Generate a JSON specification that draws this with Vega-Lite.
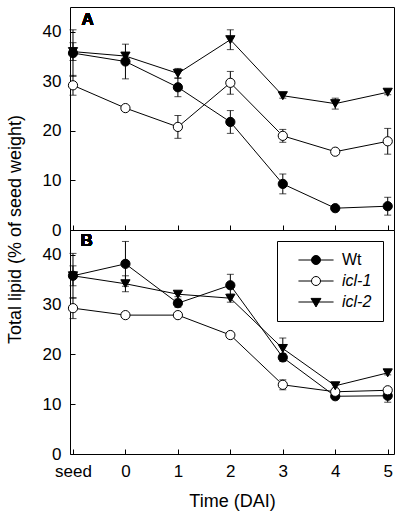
{
  "$schema": "https://vega.github.io/schema/vega-lite/v6.json",
  "padding": {"left": 5, "top": 6, "right": 5, "bottom": 5},
  "bounds": "flush",
  "spacing": 0,
  "config": {
    "font": "Liberation Sans",
    "view": {"stroke": "black", "strokeWidth": 1},
    "axis": {
      "labelFont": "Liberation Sans", "labelFontSize": 17, "labelColor": "black",
      "titleFont": "Liberation Sans", "titleFontSize": 18, "titleFontWeight": "normal", "titleColor": "black",
      "grid": false, "domain": false, "tickColor": "black", "tickSize": -5, "tickWidth": 1
    }
  },
  "resolve": {
    "scale": {"shape": "independent", "fill": "independent"},
    "legend": {"shape": "independent", "fill": "independent"}
  },
  "datasets": {
    "d": [
      {"panel": "A", "series": "Wt", "t": -1, "v": 35.7, "err": 4.7},
      {"panel": "A", "series": "Wt", "t": 0, "v": 34.0, "err": 3.5},
      {"panel": "A", "series": "Wt", "t": 1, "v": 28.8, "err": 1.9},
      {"panel": "A", "series": "Wt", "t": 2, "v": 21.8, "err": 2.3},
      {"panel": "A", "series": "Wt", "t": 3, "v": 9.3, "err": 2.0},
      {"panel": "A", "series": "Wt", "t": 4, "v": 4.4, "err": 0},
      {"panel": "A", "series": "Wt", "t": 5, "v": 4.8, "err": 1.8},
      {"panel": "A", "series": "icl-1", "t": -1, "v": 29.2, "err": 2.0},
      {"panel": "A", "series": "icl-1", "t": 0, "v": 24.6, "err": 0},
      {"panel": "A", "series": "icl-1", "t": 1, "v": 20.8, "err": 2.3},
      {"panel": "A", "series": "icl-1", "t": 2, "v": 29.7, "err": 2.3},
      {"panel": "A", "series": "icl-1", "t": 3, "v": 19.0, "err": 1.3},
      {"panel": "A", "series": "icl-1", "t": 4, "v": 15.8, "err": 0},
      {"panel": "A", "series": "icl-1", "t": 5, "v": 17.9, "err": 2.6},
      {"panel": "A", "series": "icl-2", "t": -1, "v": 36.0, "err": 1.8},
      {"panel": "A", "series": "icl-2", "t": 0, "v": 35.1, "err": 0.6},
      {"panel": "A", "series": "icl-2", "t": 1, "v": 31.6, "err": 1.0},
      {"panel": "A", "series": "icl-2", "t": 2, "v": 38.4, "err": 2.0},
      {"panel": "A", "series": "icl-2", "t": 3, "v": 27.1, "err": 0.5},
      {"panel": "A", "series": "icl-2", "t": 4, "v": 25.5, "err": 1.1},
      {"panel": "A", "series": "icl-2", "t": 5, "v": 27.8, "err": 0.5},
      {"panel": "B", "series": "Wt", "t": -1, "v": 35.8, "err": 4.5},
      {"panel": "B", "series": "Wt", "t": 0, "v": 38.2, "err": 4.5},
      {"panel": "B", "series": "Wt", "t": 1, "v": 30.3, "err": 0.8},
      {"panel": "B", "series": "Wt", "t": 2, "v": 33.9, "err": 2.2},
      {"panel": "B", "series": "Wt", "t": 3, "v": 19.4, "err": 0.8},
      {"panel": "B", "series": "Wt", "t": 4, "v": 11.6, "err": 0.5},
      {"panel": "B", "series": "Wt", "t": 5, "v": 11.7, "err": 1.3},
      {"panel": "B", "series": "icl-1", "t": -1, "v": 29.3, "err": 2.1},
      {"panel": "B", "series": "icl-1", "t": 0, "v": 27.9, "err": 0},
      {"panel": "B", "series": "icl-1", "t": 1, "v": 27.9, "err": 0},
      {"panel": "B", "series": "icl-1", "t": 2, "v": 23.9, "err": 0},
      {"panel": "B", "series": "icl-1", "t": 3, "v": 13.9, "err": 1.0},
      {"panel": "B", "series": "icl-1", "t": 4, "v": 12.5, "err": 0},
      {"panel": "B", "series": "icl-1", "t": 5, "v": 12.8, "err": 0.5},
      {"panel": "B", "series": "icl-2", "t": -1, "v": 35.8, "err": 2.0},
      {"panel": "B", "series": "icl-2", "t": 0, "v": 34.2, "err": 1.6},
      {"panel": "B", "series": "icl-2", "t": 1, "v": 32.1, "err": 0.5},
      {"panel": "B", "series": "icl-2", "t": 2, "v": 31.3, "err": 0.8},
      {"panel": "B", "series": "icl-2", "t": 3, "v": 21.2, "err": 2.1},
      {"panel": "B", "series": "icl-2", "t": 4, "v": 13.7, "err": 0.5},
      {"panel": "B", "series": "icl-2", "t": 5, "v": 16.3, "err": 0.4}
    ]
  },
  "vconcat": [
    {
      "width": 324, "height": 223,
      "data": {"name": "d"},
      "transform": [{"filter": "datum.panel == 'A'"}],
      "encoding": {
        "x": {"field": "t", "type": "quantitative",
              "scale": {"domain": [-1.057, 5.12], "nice": false, "zero": false},
              "axis": {"values": [-1, 0, 1, 2, 3, 4, 5], "labels": false, "title": null}},
        "y": {"field": "v", "type": "quantitative",
              "scale": {"domain": [0, 45], "nice": false},
              "axis": {"values": [0, 10, 20, 30, 40], "labelPadding": 14, "title": "Total lipid (% of seed weight)", "titleY": 222, "titlePadding": 18}}
      },
      "layer": [
        {"transform": [{"filter": "datum.err > 0"}],
         "mark": {"type": "errorbar", "color": "black", "thickness": 1, "ticks": {"size": 7, "color": "black"}},
         "encoding": {"yError": {"field": "err"}}},
        {"mark": {"type": "line", "color": "black", "strokeWidth": 1},
         "encoding": {"detail": {"field": "series"}}},
        {"mark": {"type": "point", "filled": true, "stroke": "black", "strokeWidth": 1, "opacity": 1, "size": 85},
         "encoding": {
           "shape": {"field": "series", "type": "nominal", "scale": {"range": ["circle", "circle", "triangle-down"]}, "legend": null},
           "fill": {"field": "series", "type": "nominal", "scale": {"domain": ["Wt", "icl-1", "icl-2"], "range": ["black", "white", "black"]}, "legend": null}
         }},
        {"mark": {"type": "text", "text": "A", "font": "Liberation Sans", "fontSize": 17, "fontWeight": "bold", "align": "center", "baseline": "middle", "color": "black"},
         "encoding": {"x": {"datum": -0.72}, "y": {"datum": 42.4}}}
      ]
    },
    {
      "width": 324, "height": 224,
      "data": {"name": "d"},
      "transform": [{"filter": "datum.panel == 'B'"}],
      "encoding": {
        "x": {"field": "t", "type": "quantitative",
              "scale": {"domain": [-1.057, 5.12], "nice": false, "zero": false},
              "axis": {"values": [-1, 0, 1, 2, 3, 4, 5], "labelPadding": 14, "labelExpr": "datum.value == -1 ? 'seed' : datum.label", "title": "Time (DAI)", "titlePadding": 13}},
        "y": {"field": "v", "type": "quantitative",
              "scale": {"domain": [0, 45], "nice": false},
              "axis": {"values": [0, 10, 20, 30, 40], "labelPadding": 14, "title": null}}
      },
      "layer": [
        {"transform": [{"filter": "datum.err > 0"}],
         "mark": {"type": "errorbar", "color": "black", "thickness": 1, "ticks": {"size": 7, "color": "black"}},
         "encoding": {"yError": {"field": "err"}}},
        {"mark": {"type": "line", "color": "black", "strokeWidth": 1},
         "encoding": {"detail": {"field": "series"}}},
        {"mark": {"type": "point", "filled": true, "stroke": "black", "strokeWidth": 1, "opacity": 1, "size": 85},
         "encoding": {
           "shape": {"field": "series", "type": "nominal", "scale": {"range": ["circle", "circle", "triangle-down"]}, "legend": null},
           "fill": {"field": "series", "type": "nominal", "scale": {"domain": ["Wt", "icl-1", "icl-2"], "range": ["black", "white", "black"]},
             "legend": {"title": null, "orient": "top-right", "offset": 11, "padding": 11, "strokeColor": "black", "fillColor": "white", "cornerRadius": 0,
               "labelFont": "Liberation Sans", "labelFontSize": 16, "labelColor": "black",
               "labelFontStyle": {"expr": "datum.value === 'Wt' ? 'normal' : 'italic'"},
               "labelExpr": "datum.label + '  '",
               "symbolType": {"expr": "datum.value === 'icl-2' ? 'M-3.9,0L3.9,0M-1.1,-0.8L1.1,-0.8L0,1.1Z' : 'M-3.9,0L-1,0M1,0L3.9,0M1,0A1,1,0,1,1,-1,0A1,1,0,1,1,1,0Z'"},
               "symbolSize": 81, "symbolOffset": 20, "labelOffset": 18, "rowPadding": 5,
               "symbolStrokeColor": "black", "symbolStrokeWidth": 1, "symbolOpacity": 1}}
         }},
        {"mark": {"type": "text", "text": "B", "font": "Liberation Sans", "fontSize": 17, "fontWeight": "bold", "align": "center", "baseline": "middle", "color": "black"},
         "encoding": {"x": {"datum": -0.74}, "y": {"datum": 42.7}}}
      ]
    }
  ]
}
